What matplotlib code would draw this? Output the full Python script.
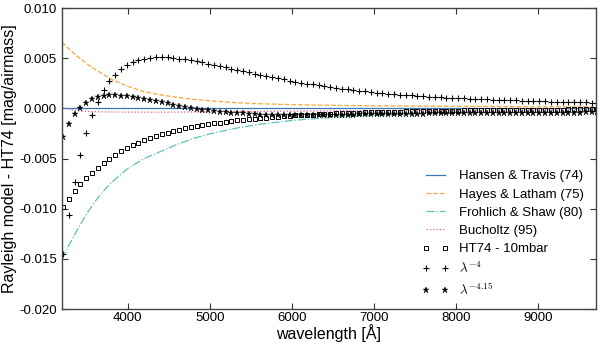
import numpy as np
import matplotlib
matplotlib.use("Agg")
import matplotlib.pyplot as plt

plt.rcParams['font.family'] = ['Liberation Sans', 'DejaVu Sans']
plt.rcParams['mathtext.fontset'] = 'cm'

# model grid (Angstrom), 100 points from 3000 to 10000, visible part only
wave = np.linspace(3000, 10000, 100)[3:96]

# HT74 - 10 mbar  [1e-3 mag/airmass]
ht74_10mbar = [
    -9.8, -9.0, -8.2, -7.5, -6.9, -6.4, -5.9, -5.4, -5.0, -4.6,
    -4.3, -4.0, -3.7, -3.45, -3.2, -3.0, -2.8, -2.6, -2.45, -2.3,
    -2.15, -2.0, -1.9, -1.8, -1.7, -1.6, -1.5, -1.42, -1.34, -1.27,
    -1.2, -1.14, -1.08, -1.02, -0.97, -0.92, -0.87, -0.83, -0.79, -0.75,
    -0.71, -0.68, -0.65, -0.62, -0.59, -0.56, -0.54, -0.51, -0.49, -0.47,
    -0.45, -0.43, -0.41, -0.39, -0.38, -0.36, -0.35, -0.33, -0.32, -0.31,
    -0.30, -0.28, -0.27, -0.26, -0.25, -0.24, -0.23, -0.22, -0.22, -0.21,
    -0.20, -0.19, -0.19, -0.18, -0.17, -0.17, -0.16, -0.16, -0.15, -0.15,
    -0.14, -0.14, -0.13, -0.13, -0.12, -0.12, -0.12, -0.11, -0.11, -0.10,
    -0.10, -0.10, -0.09]

# lambda^-4 model - HT74  [1e-3]
lam4 = [
    -14.5, -10.6, -7.3, -4.6, -2.5, -0.7, 0.6, 1.8, 2.7, 3.35,
    3.9, 4.3, 4.6, 4.8, 4.95, 5.05, 5.1, 5.1, 5.07, 5.02,
    4.95, 4.87, 4.78, 4.68, 4.58, 4.45, 4.33, 4.2, 4.08, 3.95,
    3.83, 3.7, 3.58, 3.46, 3.34, 3.22, 3.1, 2.99, 2.88, 2.77,
    2.67, 2.57, 2.47, 2.38, 2.29, 2.2, 2.12, 2.04, 1.96, 1.89,
    1.82, 1.75, 1.69, 1.63, 1.57, 1.52, 1.47, 1.42, 1.37, 1.33,
    1.29, 1.25, 1.21, 1.18, 1.14, 1.11, 1.08, 1.05, 1.02, 0.99,
    0.97, 0.94, 0.92, 0.9, 0.87, 0.85, 0.83, 0.81, 0.79, 0.77,
    0.75, 0.73, 0.71, 0.7, 0.68, 0.66, 0.65, 0.63, 0.62, 0.6,
    0.59, 0.57, 0.56]

# lambda^-4.15 model - HT74  [1e-3]
lam415 = [
    -2.9, -1.6, -0.6, 0.05, 0.55, 0.9, 1.1, 1.25, 1.3, 1.3,
    1.27, 1.2, 1.12, 1.03, 0.94, 0.85, 0.75, 0.63, 0.5, 0.35,
    0.22, 0.1, 0.0, -0.08, -0.15, -0.21, -0.27, -0.33, -0.38, -0.43,
    -0.47, -0.51, -0.55, -0.59, -0.62, -0.65, -0.67, -0.69, -0.70, -0.70,
    -0.70, -0.70, -0.70, -0.69, -0.68, -0.67, -0.66, -0.65, -0.64, -0.63,
    -0.62, -0.61, -0.60, -0.59, -0.58, -0.57, -0.56, -0.55, -0.55, -0.54,
    -0.53, -0.52, -0.52, -0.51, -0.50, -0.50, -0.49, -0.49, -0.48, -0.48,
    -0.47, -0.47, -0.46, -0.46, -0.46, -0.45, -0.45, -0.45, -0.44, -0.44,
    -0.44, -0.43, -0.43, -0.43, -0.43, -0.42, -0.42, -0.42, -0.42, -0.42,
    -0.41, -0.41, -0.41]

# line models on a coarser grid
wave_lines = [3200, 3300, 3400, 3500, 3600, 3700, 3800, 3900, 4000, 4200,
              4400, 4600, 4800, 5000, 5300, 5600, 6000, 6500, 7000, 7500,
              8000, 8500, 9000, 9700]
hansen = [0.0] * len(wave_lines)
hayes = [6.6, 5.8, 5.1, 4.45, 3.9, 3.4, 2.9, 2.55, 2.2, 1.65,
         1.35, 1.1, 0.9, 0.75, 0.57, 0.46, 0.37, 0.3, 0.26, 0.23,
         0.2, 0.18, 0.16, 0.14]
frohlich = [-15.0, -13.4, -11.9, -10.5, -9.3, -8.3, -7.4, -6.7, -6.0, -5.0,
            -4.3, -3.6, -3.0, -2.55, -2.0, -1.6, -1.2, -0.9, -0.7, -0.58,
            -0.5, -0.44, -0.4, -0.35]
bucholtz = [0.1, -0.1, -0.25, -0.3, -0.33, -0.35, -0.36, -0.37, -0.37, -0.38,
            -0.38, -0.37, -0.36, -0.35, -0.33, -0.31, -0.28, -0.25, -0.22, -0.2,
            -0.18, -0.16, -0.14, -0.12]

s = 1e-3  # values above are in 1e-3 mag/airmass

fig = plt.figure(figsize=(6.0, 3.44), dpi=100)
ax = fig.add_axes([0.1033, 0.1017, 0.89, 0.875])

ax.plot(wave_lines, np.array(hansen) * s, '-', color='#3a78b4', lw=0.9,
        label='Hansen & Travis (74)')
ax.plot(wave_lines, np.array(hayes) * s, '--', color='#f5a93a', lw=0.9,
        label='Hayes & Latham (75)')
ax.plot(wave_lines, np.array(frohlich) * s, '-.', color='#5cc0bb', lw=0.9,
        label='Frohlich & Shaw (80)')
ax.plot(wave_lines, np.array(bucholtz) * s, ':', color='#e0559a', lw=0.9,
        label='Bucholtz (95)')
ax.plot(wave, np.array(ht74_10mbar) * s, 's', mfc='none', mec='black',
        ms=3, mew=0.7, label='HT74 - 10mbar')
ax.plot(wave, np.array(lam4) * s, '+', color='black', ms=5, mew=0.8,
        label=r'$\lambda^{-4}$')
ax.plot(wave, np.array(lam415) * s, '*', color='black', ms=4.5, mew=0.3,
        label=r'$\lambda^{-4.15}$')

ax.set_xlim(3200, 9700)
ax.set_ylim(-0.020, 0.010)
ax.set_xticks([4000, 5000, 6000, 7000, 8000, 9000])
ax.set_yticks([-0.020, -0.015, -0.010, -0.005, 0.000, 0.005, 0.010])
ax.yaxis.set_major_formatter(matplotlib.ticker.FormatStrFormatter('%.3f'))
ax.tick_params(direction='in', top=True, right=True, labelsize=9.5,
               length=4, width=0.8, colors='#333333', labelcolor='black')
ax.tick_params(axis='x', pad=2)
for sp in ax.spines.values():
    sp.set_color('#444444')
    sp.set_linewidth(1.0)

ax.set_xlabel(u'wavelength [\u00c5]', fontsize=11.5, labelpad=0)
ax.set_ylabel('Rayleigh model - HT74 [mag/airmass]', fontsize=11.5, labelpad=2)

ax.legend(loc='lower right', frameon=False, fontsize=9.5, numpoints=2,
          handlelength=2.0, labelspacing=0.45)

fig.savefig('out.png', dpi=100)
